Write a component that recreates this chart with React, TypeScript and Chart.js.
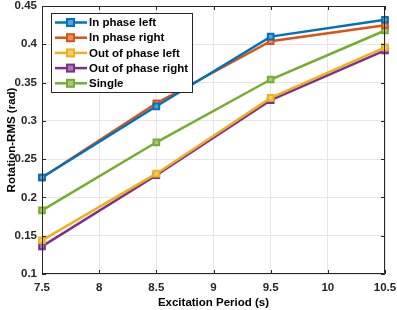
import React, { useEffect, useRef } from "react";
import { Chart, registerables } from "chart.js";
Chart.register(...registerables);

const periods = [7.5, 8.5, 9.5, 10.5];
const inPhaseLeft = [0.226, 0.319, 0.410, 0.432];
const inPhaseRight = [0.226, 0.323, 0.404, 0.425];
const outPhaseLeft = [0.144, 0.231, 0.330, 0.396];
const outPhaseRight = [0.136, 0.229, 0.327, 0.392];
const single = [0.183, 0.272, 0.354, 0.418];
const seriesNames = ["In phase left", "In phase right", "Out of phase left", "Out of phase right", "Single"];
const seriesColors = ["#0072BD", "#D95319", "#EDB120", "#7E2F8E", "#77AC30"];
const seriesData = [inPhaseLeft, inPhaseRight, outPhaseLeft, outPhaseRight, single];
const xTicks = [7.5, 8, 8.5, 9, 9.5, 10, 10.5];
const yTicks = [0.1, 0.15, 0.2, 0.25, 0.3, 0.35, 0.4, 0.45];

const FONT = "'Liberation Sans', Arial, Helvetica, sans-serif";

function lighten(hex: string, a: number) {
  const r = parseInt(hex.slice(1, 3), 16), g = parseInt(hex.slice(3, 5), 16), b = parseInt(hex.slice(5, 7), 16);
  const m = (c: number) => Math.round(c + (255 - c) * a);
  return `rgb(${m(r)},${m(g)},${m(b)})`;
}

const framePlugin = {
  id: "frame",
  afterDatasetsDraw(chart: any) {
    const { ctx, chartArea: a, scales } = chart;
    ctx.save();
    ctx.strokeStyle = "#262626";
    ctx.lineWidth = 1;
    ctx.beginPath();
    ctx.rect(a.left + 0.5, a.top + 0.5, a.right - a.left - 1, a.bottom - a.top - 1);
    ctx.stroke();
    const tl = 4;
    ctx.beginPath();
    for (const v of xTicks) {
      const x = Math.round(scales.x.getPixelForValue(v)) + 0.5;
      ctx.moveTo(x, a.bottom); ctx.lineTo(x, a.bottom - tl);
      ctx.moveTo(x, a.top); ctx.lineTo(x, a.top + tl);
    }
    for (const v of yTicks) {
      const y = Math.round(scales.y.getPixelForValue(v)) + 0.5;
      ctx.moveTo(a.left, y); ctx.lineTo(a.left + tl, y);
      ctx.moveTo(a.right, y); ctx.lineTo(a.right - tl, y);
    }
    ctx.stroke();
    ctx.restore();
  },
  afterDraw(chart: any) {
    const { ctx } = chart;
    const bx = 51, by = 13, bw = 141, bh = 79;
    ctx.save();
    ctx.fillStyle = "#ffffff";
    ctx.fillRect(bx, by, bw, bh);
    ctx.strokeStyle = "#262626";
    ctx.lineWidth = 1;
    ctx.strokeRect(bx + 0.5, by + 0.5, bw, bh);
    ctx.font = `bold 11.5px ${FONT}`;
    ctx.textBaseline = "middle";
    seriesNames.forEach((name, i) => {
      const y = by + 9.5 + i * 15.2;
      const c = seriesColors[i];
      ctx.strokeStyle = c;
      ctx.lineWidth = 2.5;
      ctx.beginPath();
      ctx.moveTo(55, y); ctx.lineTo(87, y);
      ctx.stroke();
      ctx.fillStyle = lighten(c, 0.35);
      ctx.fillRect(67, y - 3.5, 7, 7);
      ctx.lineWidth = 2;
      ctx.strokeRect(67, y - 3.5, 7, 7);
      ctx.fillStyle = "#000000";
      ctx.fillText(name, 89, y + 0.5);
    });
    ctx.restore();
  },
};

export default function App() {
  const ref = useRef<HTMLCanvasElement>(null);
  useEffect(() => {
    if (!ref.current) return;
    const chart = new Chart(ref.current, {
      type: "line",
      data: {
        datasets: seriesData.map((d, i) => ({
          label: seriesNames[i],
          data: d.map((v, j) => ({ x: periods[j], y: v })),
          borderColor: seriesColors[i],
          backgroundColor: lighten(seriesColors[i], 0.35),
          borderWidth: 2.5,
          pointStyle: "rect",
          pointRadius: 4,
          pointBorderWidth: 2,
          tension: 0,
        })),
      },
      options: {
        responsive: false,
        animation: false,
        clip: false,
        layout: { padding: { top: 5, right: 12, left: 0, bottom: 0 } },
        plugins: { legend: { display: false }, tooltip: { enabled: false } },
        scales: {
          x: {
            type: "linear",
            min: 7.5,
            max: 10.5,
            afterBuildTicks: (s: any) => { s.ticks = xTicks.map((v) => ({ value: v })); },
            afterFit: (s: any) => { s.height = 36; s.paddingLeft = 0; s.paddingRight = 0; },
            grid: { color: "#e6e6e6", drawTicks: false },
            border: { display: false },
            ticks: {
              color: "#262626",
              padding: 7,
              font: { family: FONT, size: 11.5, weight: "bold" },
              callback: (v: any) => String(v),
              maxRotation: 0,
            },
            title: {
              display: true,
              text: "Excitation Period (s)",
              color: "#000",
              font: { family: FONT, size: 11.5, weight: "bold" },
              padding: { top: 0, bottom: 0 },
            },
          },
          y: {
            min: 0.1,
            max: 0.45,
            afterBuildTicks: (s: any) => { s.ticks = yTicks.map((v) => ({ value: v })); },
            afterFit: (s: any) => { s.width = 42; s.paddingTop = 0; s.paddingBottom = 0; },
            grid: { color: "#e6e6e6", drawTicks: false },
            border: { display: false },
            ticks: {
              color: "#262626",
              padding: 5,
              font: { family: FONT, size: 11.5, weight: "bold" },
              callback: (v: any) => String(Math.round(v * 100) / 100),
            },
            title: {
              display: true,
              text: "Rotation-RMS (rad)",
              color: "#000",
              font: { family: FONT, size: 11.5, weight: "bold" },
              padding: { top: 5, bottom: 0 },
            },
          },
        },
      },
      plugins: [framePlugin],
    });
    return () => chart.destroy();
  }, []);
  return (
    <div style={{ position: "absolute", left: 0, top: 0, width: 397, height: 310, background: "#fff" }}>
      <canvas ref={ref} width={397} height={310} style={{ display: "block" }} />
    </div>
  );
}
